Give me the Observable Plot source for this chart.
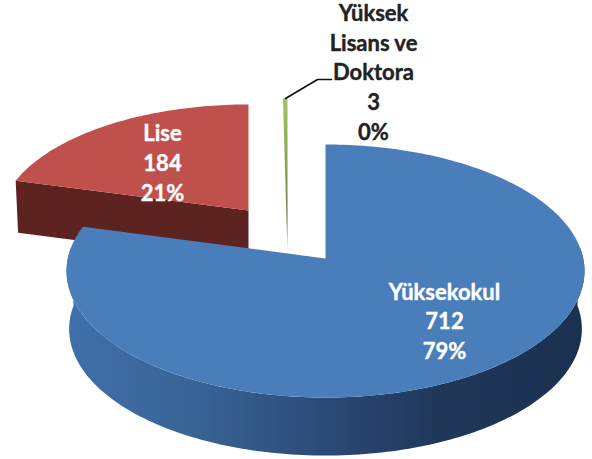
<!DOCTYPE html>
<html>
<head>
<meta charset="utf-8">
<style>html,body{margin:0;padding:0;background:#fff}svg{display:block}</style>
<script src="https://cdn.jsdelivr.net/npm/d3@7"></script>
<script src="https://cdn.jsdelivr.net/npm/@observablehq/plot@0.6"></script>
</head>
<body>
<script>
const categories = ["Yüksekokul", "Lise", "Yüksek\nLisans ve\nDoktora"];
const counts = [712, 184, 3];
const percents = [79, 21, 0];

const W = 592, H = 459;
const arcs = d3.pie().sort(null)(counts);
const k = 0.0988;

// Tilted-circle projection of a pie angle, relative to a slice's apex
function project(theta, a) {
  const u = Math.sin(theta), v = Math.cos(theta), d = 1 + k * v;
  return {x: a.x + a.sx * 257.7 * u / d, y: a.y + a.dy - a.sy * 125.3 * v / d};
}
function arcPts(t0, t1, a) {
  const n = Math.max(2, Math.ceil((t1 - t0) / 0.02));
  return d3.range(n + 1).map(i => project(t0 + (t1 - t0) * i / n, a));
}
const blue = {x: 325, y: 258, dy: 0, sx: 1, sy: 1};
const blueLow = {x: 325, y: 258, dy: 58, sx: 0.99, sy: 1};
const red = {x: 248, y: 210, dy: 0, sx: 0.96, sy: 0.93};
const redLow = {x: 248, y: 210, dy: 52, sx: 0.95, sy: 0.93};
const green = {x: 287, y: 205, dy: 0, sx: 0.92, sy: 0.94};

const deg = Math.PI / 180;
const blueTop = [{x: blue.x, y: blue.y}, ...arcPts(arcs[0].startAngle, arcs[0].endAngle, blue)];
const blueSide = [...arcPts(85 * deg, 275 * deg, blue), ...arcPts(85 * deg, 275 * deg, blueLow).reverse()];
const redTop = [{x: red.x, y: red.y}, ...arcPts(arcs[1].startAngle, arcs[2].endAngle, red)];
const redTip = project(arcs[1].startAngle, red), redTipLow = project(arcs[1].startAngle, redLow);
const redWall = [redTip, {x: red.x, y: red.y}, {x: red.x, y: red.y + 52}, redTipLow];
const greenShape = [...arcPts(arcs[2].startAngle, arcs[2].endAngle, green), {x: green.x, y: green.y + 48}];

const labels = categories.map((c, i) => ({text: `${c}\n${counts[i]}\n${percents[i]}%`}));
const leader = [{x: 285, y: 98}, {x: 317, y: 79}, {x: 331, y: 79}];

function gradients() {
  const defs = d3.create("svg:defs");
  const g1 = defs.append("linearGradient").attr("id", "blueSide").attr("x1", 0).attr("x2", 1).attr("y1", 0).attr("y2", 0);
  [[0, "#3f70aa"], [0.25, "#386396"], [0.5, "#2b4a76"], [0.72, "#20375a"], [1, "#1c3150"]]
    .forEach(([o, c]) => g1.append("stop").attr("offset", o).attr("stop-color", c));
  const g2 = defs.append("linearGradient").attr("id", "greenFade").attr("x1", 0).attr("x2", 0).attr("y1", 0).attr("y2", 1);
  [[0, "#a2c563"], [0.55, "#7f9a48"], [0.8, "#5f6f46"], [1, "#d8d8d8"]]
    .forEach(([o, c]) => g2.append("stop").attr("offset", o).attr("stop-color", c));
  return defs.node();
}

const shape = (pts, fill) => Plot.line(pts, {x: "x", y: "y", fill, stroke: "none"});
const labelStyle = (fill) => ({text: "text", fill, stroke: fill, strokeWidth: 0.4, fontFamily: "Lato, Carlito, sans-serif", fontWeight: 700, fontSize: 22, lineHeight: 1.345});

const chart = Plot.plot({
  width: W, height: H, margin: 0,
  style: {background: "#fff"},
  x: {domain: [0, W], range: [0, W], axis: null},
  y: {domain: [0, H], range: [0, H], axis: null},
  marks: [
    gradients,
    shape(redWall, "#5c2320"),
    shape(redTop, "#bf504c"),
    shape(greenShape, "url(#greenFade)"),
    shape(blueSide, "url(#blueSide)"),
    shape(blueTop, "#4a7ebb"),
    Plot.line(leader, {x: "x", y: "y", stroke: "#111", strokeWidth: 1.6}),
    Plot.text([labels[0]], {...labelStyle("#fff"), x: () => 444, y: () => 319.5}),
    Plot.text([labels[1]], {...labelStyle("#fff"), x: () => 162, y: () => 161}),
    Plot.text([labels[2]], {...labelStyle("#222"), x: () => 373, y: () => 70.5})
  ]
});
document.body.appendChild(chart);
</script>
</body>
</html>
